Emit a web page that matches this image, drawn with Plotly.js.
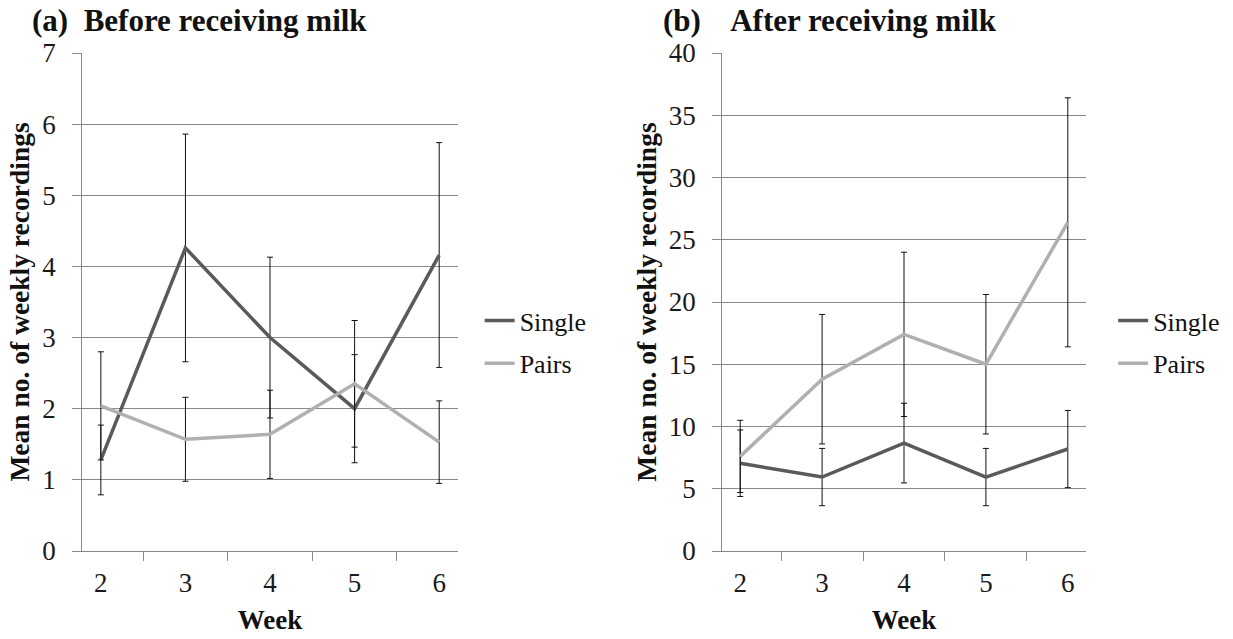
<!DOCTYPE html>
<html>
<head>
<meta charset="utf-8">
<script src="https://cdn.plot.ly/plotly-3.0.1.min.js"></script>
<style>html,body{margin:0;padding:0;background:#fff;}#chart{width:1233px;height:639px;}</style>
</head>
<body>
<div id="chart"></div>
<script>
var weeks = ['2', '3', '4', '5', '6'];
var beforeSingle = [1.28, 4.26, 3.0, 2.0, 4.16];
var beforeSingleErr = [0.49, 1.6, 1.13, 0.76, 1.58];
var beforePairs = [2.04, 1.57, 1.64, 2.35, 1.53];
var beforePairsErr = [0.76, 0.59, 0.62, 0.89, 0.58];
var afterSingle = [7.05, 5.94, 8.67, 5.94, 8.19];
var afterSingleErr = [2.67, 2.3, 3.2, 2.3, 3.1];
var afterPairs = [7.6, 13.8, 17.4, 15.0, 26.4];
var afterPairsErr = [2.9, 5.2, 6.6, 5.6, 10.0];
var seriesNames = ['Single', 'Pairs'];
var panelTitles = ['(a)\u00a0 Before receiving milk', '(b)\u00a0\u00a0\u00a0 After receiving milk'];
var yTitle = 'Mean no. of weekly recordings';
var xTitle = 'Week';

var FONT = 'Liberation Serif, Times New Roman, serif';
var cSingle = '#5a5a5a', cPairs = '#b0b0b0';

function tr(y, err, name, color, xa, ya, leg) {
  return {
    x: weeks, y: y, name: name, type: 'scatter', mode: 'lines',
    xaxis: xa, yaxis: ya, legend: leg,
    line: {color: color, width: 3.5},
    error_y: {type: 'data', array: err, visible: true, color: '#111', thickness: 1, width: 3},
    legendgroup: leg + name, hoverinfo: 'skip'
  };
}

var data = [
  tr(beforeSingle, beforeSingleErr, seriesNames[0], cSingle, 'x', 'y', 'legend'),
  tr(beforePairs, beforePairsErr, seriesNames[1], cPairs, 'x', 'y', 'legend'),
  tr(afterSingle, afterSingleErr, seriesNames[0], cSingle, 'x2', 'y2', 'legend2'),
  tr(afterPairs, afterPairsErr, seriesNames[1], cPairs, 'x2', 'y2', 'legend2')
];

function xax(dom, anchor) {
  return {
    domain: dom, anchor: anchor, type: 'category', tickson: 'boundaries',
    ticks: 'outside', ticklen: 9, tickcolor: '#8a8a8a', tickwidth: 1,
    showgrid: false, showline: true, linecolor: '#8a8a8a', linewidth: 1,
    zeroline: false, tickfont: {family: FONT, size: 27, color: '#1a1a1a'},
    ticklabelstandoff: 8,
    title: {text: xTitle, font: {family: FONT, size: 27, color: '#111', weight: 'bold'}, standoff: 12},
    fixedrange: true
  };
}
function yax(range, dtick, anchor) {
  return {
    domain: [0, 1], anchor: anchor, range: range, dtick: dtick,
    ticks: 'outside', ticklen: 9, tickcolor: '#8a8a8a',
    showgrid: true, gridcolor: '#8a8a8a', gridwidth: 1,
    showline: true, linecolor: '#8a8a8a', linewidth: 1, zeroline: false,
    tickfont: {family: FONT, size: 27, color: '#1a1a1a'},
    ticklabelstandoff: 11,
    title: {text: yTitle, font: {family: FONT, size: 27.5, color: '#111', weight: 'bold'}, standoff: 4},
    fixedrange: true
  };
}

var legFont = {family: FONT, size: 26, color: '#111'};
var layout = {
  width: 1233, height: 639,
  margin: {l: 10, r: 0, t: 53, b: 88},
  paper_bgcolor: '#fff', plot_bgcolor: '#fff',
  showlegend: true,
  xaxis: xax([0.0589, 0.3663], 'y'),
  yaxis: yax([0, 7], 1, 'x'),
  xaxis2: xax([0.5822, 0.8798], 'y2'),
  yaxis2: yax([0, 40], 5, 'x2'),
  legend: {x: 0.384, xanchor: 'left', y: 0.51, yanchor: 'top', font: legFont, bgcolor: 'rgba(0,0,0,0)', tracegroupgap: 6, traceorder: 'grouped', itemwidth: 30},
  legend2: {x: 0.902, xanchor: 'left', y: 0.51, yanchor: 'top', font: legFont, bgcolor: 'rgba(0,0,0,0)', tracegroupgap: 6, traceorder: 'grouped', itemwidth: 30},
  annotations: [
    {text: '<b>' + panelTitles[0] + '</b>', xref: 'paper', yref: 'paper', x: 0.0165, y: 1.066, xanchor: 'left', yanchor: 'middle', showarrow: false, font: {family: FONT, size: 31, color: '#111'}},
    {text: '<b>' + panelTitles[1] + '</b>', xref: 'paper', yref: 'paper', x: 0.5325, y: 1.066, xanchor: 'left', yanchor: 'middle', showarrow: false, font: {family: FONT, size: 31, color: '#111'}}
  ]
};

Plotly.newPlot('chart', data, layout, {displayModeBar: false, staticPlot: true});
</script>
</body>
</html>
